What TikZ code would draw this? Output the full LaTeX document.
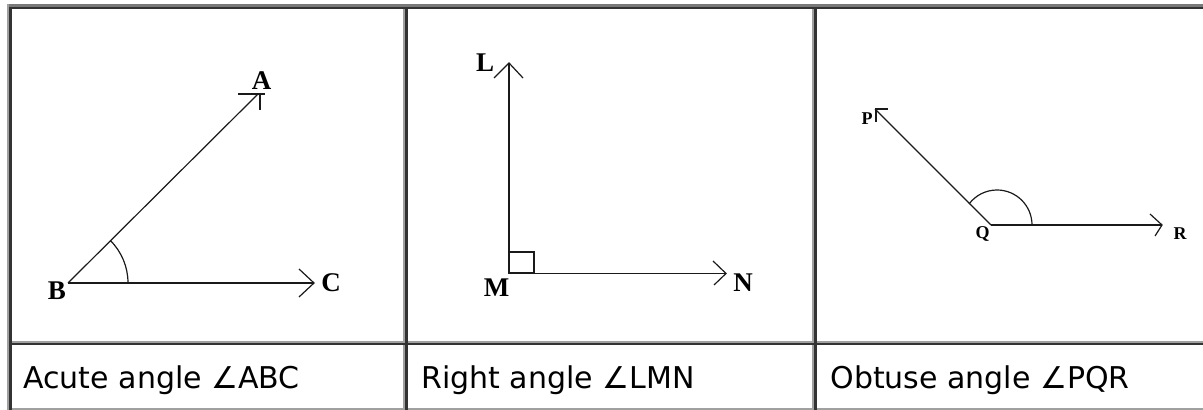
\documentclass[tikz,border=0pt]{standalone}
\usepackage{fontspec}
\setmainfont{DejaVu Sans}
\newfontfamily\lblfont{Liberation Serif}
\definecolor{bdark}{HTML}{333333}
\definecolor{blight}{HTML}{A0A0A0}
\definecolor{btop}{HTML}{7A7A7A}
\definecolor{ink}{HTML}{1A1A1A}
\tikzset{
  ray/.style={draw=ink, line width=0.6pt},
  barb/.style={draw=ink, line width=0.6pt},
  anglemark/.style={draw=ink, line width=0.6pt},
  sqmark/.style={draw=ink, line width=1pt},
  biglbl/.style={inner sep=0pt, font=\lblfont\bfseries\fontsize{13.5}{16}\selectfont},
  smalllbl/.style={inner sep=0pt, font=\lblfont\bfseries\fontsize{9}{11}\selectfont},
  caption/.style={inner sep=0pt, anchor=base west, font=\fontsize{15}{18}\selectfont, text=black},
}
\begin{document}
\begin{tikzpicture}[x=0.5pt,y=-0.5pt]
\useasboundingbox (0,0) rectangle (1203,410);
\fill[white] (0,0) rectangle (1203,410);
% outer table border
\fill[btop] (7,4) rectangle (1203,7);
\fill[blight] (7,4) rectangle (9,410);
% cells (inset borders)
\foreach \xa/\xb in {9/405,405/814,814/1210}{
  \foreach \ya/\yb in {7/343,343/410}{
    \fill[blight] (\xa,\yb-2) rectangle (\xb,\yb);
    \fill[blight] (\xb-2,\ya) rectangle (\xb,\yb);
    \fill[bdark] (\xa,\ya) rectangle (\xb,\ya+2.5);
    \fill[bdark] (\xa,\ya) rectangle (\xa+2.5,\yb);
  }
}
% ---------- panel 1: acute angle ----------
\coordinate (B) at (68,283);
\coordinate (A) at (258,94);
\coordinate (C) at (314,283);
\draw[ray] (B) -- (A);
\draw[ray] (B) -- (C);
\draw[barb] (238,94) -- (265,94);
\draw[barb] (260,93) -- (260,110);
\draw[barb] (299,269) -- (C) -- (299,297);
\draw[anglemark] (128,283) arc[start angle=0,end angle=-45,radius=60];
\node[biglbl] (lA) at (261.5,81) {A};
\node[biglbl] (lB) at (57,291) {B};
\node[biglbl] (lC) at (331,282.5) {C};
% ---------- panel 2: right angle ----------
\coordinate (M) at (509,273.5);
\coordinate (L) at (509,63);
\coordinate (N) at (726,273.5);
\draw[ray] (M) -- (L);
\draw[ray] (M) -- (N);
\draw[barb] (494,78) -- (L) -- (523,78);
\draw[barb] (713,261) -- (N) -- (714,285);
\draw[sqmark] (509,273.5) rectangle (534,252.5);
\node[biglbl] (lL) at (485,62.5) {L};
\node[biglbl] (lM) at (496.5,288) {M};
\node[biglbl] (lN) at (743,282.5) {N};
% ---------- panel 3: obtuse angle ----------
\coordinate (Q) at (991,225);
\coordinate (P) at (875,109);
\coordinate (R) at (1162,225);
\draw[ray] (Q) -- (P);
\draw[ray] (Q) -- (R);
\draw[barb] (P) -- (888,109);
\draw[barb] (876,109) -- (876,122);
\draw[barb] (1150,214) -- (R) -- (1155,236);
\draw[anglemark] (1032,225) arc[start angle=0,end angle=-143,radius=35];
\node[smalllbl] (lP) at (867,119) {P};
\node[smalllbl, anchor=base] (lQ) at (982.5,239) {Q};
\node[smalllbl] (lR) at (1180,234) {R};
% ---------- captions ----------
\node[caption] (t1) at (23,389) {Acute angle ∠ABC};
\node[caption] (t2) at (421,389) {Right angle ∠LMN};
\node[caption] (t3) at (830,389) {Obtuse angle ∠PQR};
\end{tikzpicture}
\end{document}
